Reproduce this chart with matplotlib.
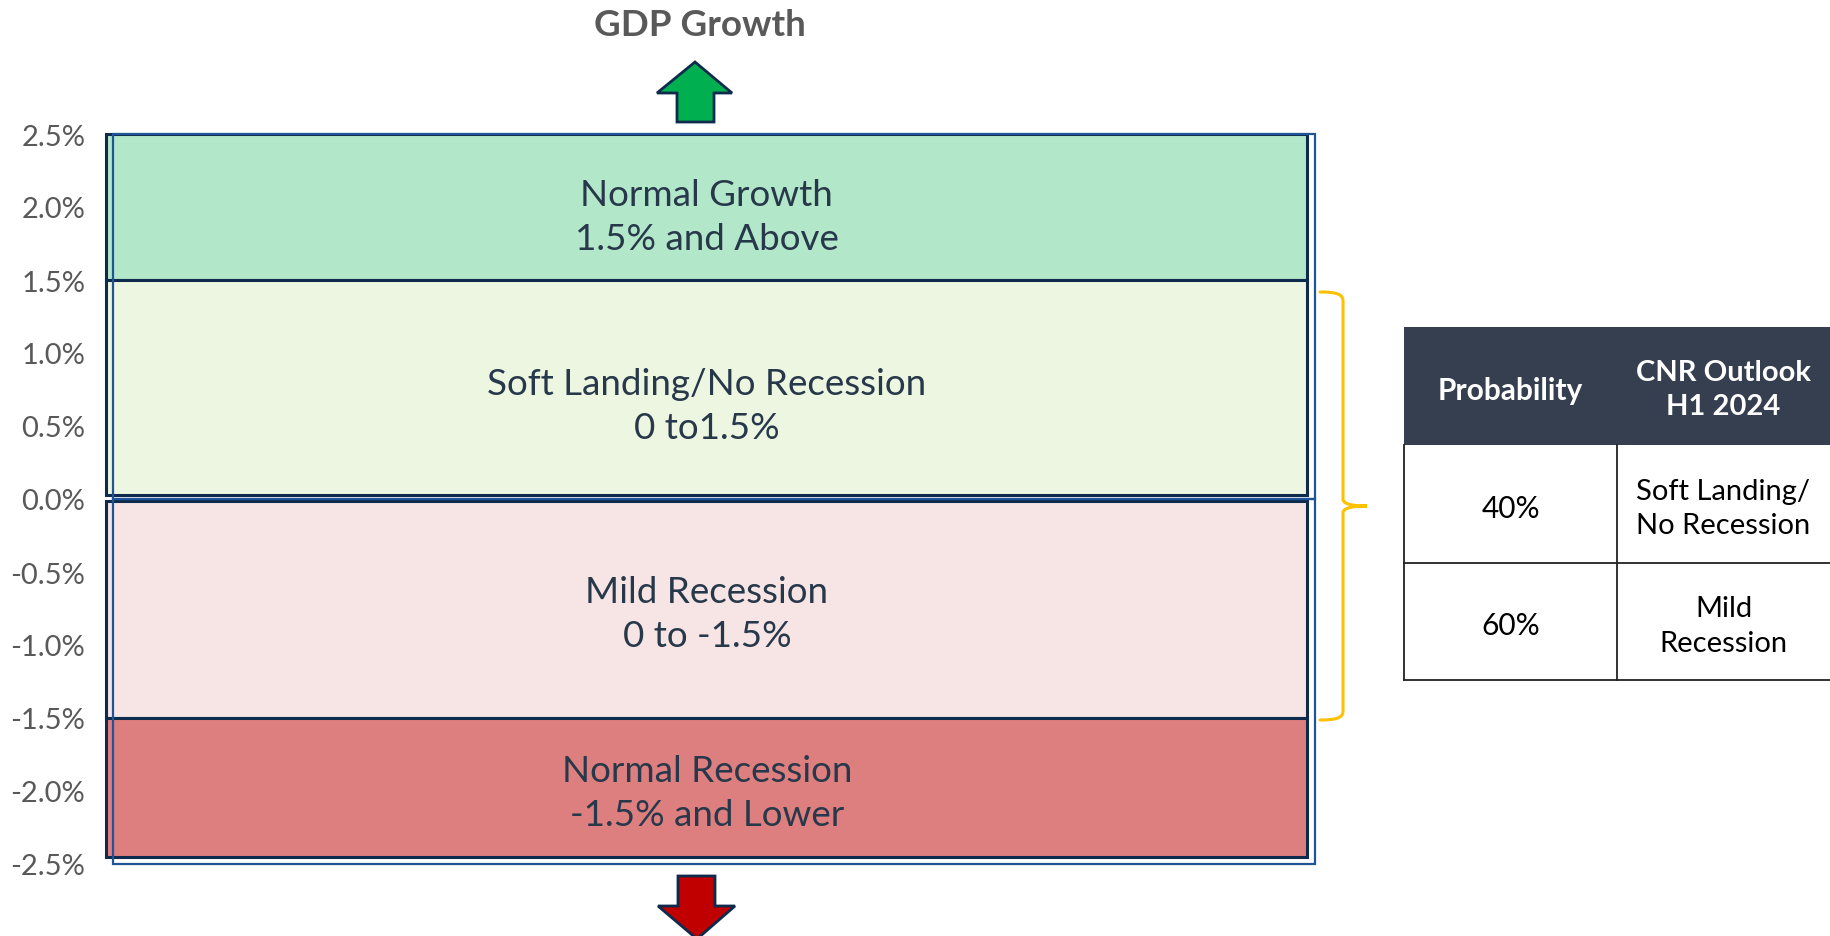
import matplotlib.pyplot as plt
from matplotlib.patches import Rectangle, Polygon, PathPatch
from matplotlib.path import Path

plt.rcParams['font.family'] = ['Lato', 'DejaVu Sans']

# zones of GDP growth (in %)
zone_names = ['Normal Growth\n1.5% and Above', 'Soft Landing/No Recession\n0 to1.5%',
              'Mild Recession\n0 to -1.5%', 'Normal Recession\n-1.5% and Lower']
zone_top = [2.5, 1.5, 0.0, -1.5]
zone_bottom = [1.5, 0.0, -1.5, -2.45]
zone_colors = ['#b3e7c9', '#edf6e0', '#f7e5e5', '#de7f7f']
label_nudge = [-0.065, -0.11, -0.035, -0.035]   # small shifts of the zone texts

y_ticks = [2.5, 2.0, 1.5, 1.0, 0.5, 0.0, -0.5, -1.0, -1.5, -2.0, -2.5]
y_labels = ['2.5%', '2.0%', '1.5%', '1.0%', '0.5%', '0.0%',
            '-0.5%', '-1.0%', '-1.5%', '-2.0%', '-2.5%']

table_header = ['Probability', 'CNR Outlook\nH1 2024']
probabilities = ['40%', '60%']
outlooks = ['Soft Landing/\nNo Recession', 'Mild\nRecession']

W, H = 1830, 937
fig = plt.figure(figsize=(W / 100, H / 100), dpi=100)

ax = fig.add_axes([106 / W, 72 / H, 1209 / W, 730 / H])
ax.set_xlim(0, 1)
ax.set_ylim(-2.5, 2.5)
for s in ax.spines.values():
    s.set_visible(False)
ax.set_xticks([])
ax.set_yticks(y_ticks)
ax.set_yticklabels(y_labels, fontsize=21, color='#595959')
ax.tick_params(axis='y', length=0, pad=15)

navy = '#0e2b4d'
blue = '#1f5597'

# outer blue frames (above / below zero)
for lo, hi in [(0.0, 2.5), (-2.5, 0.0)]:
    ax.add_patch(Rectangle((0.006, lo), 0.994, hi - lo, facecolor='none',
                           edgecolor=blue, lw=1.6, zorder=3, clip_on=False))

# zone boxes
for name, top, bot, col, nd in zip(zone_names, zone_top, zone_bottom,
                                   zone_colors, label_nudge):
    t = top - 0.015 if top == 0 else top
    b = bot + 0.025 if bot == 0 else bot
    ax.add_patch(Rectangle((0, b), 0.9934, t - b, facecolor=col,
                           edgecolor=navy, lw=2.2, zorder=2, clip_on=False))
    ax.text(0.497, (top + bot) / 2 + nd, name, ha='center', va='center',
            fontsize=26.5, color='#27384a', linespacing=1.42, zorder=4)

# overlay in pixel coordinates for decorations
ov = fig.add_axes([0, 0, 1, 1], zorder=5)
ov.set_xlim(0, W)
ov.set_ylim(H, 0)
ov.axis('off')
ov.patch.set_alpha(0)

ov.text(700, 26, 'GDP Growth', ha='center', va='center', fontsize=26.5,
        fontweight='bold', color='#595959')

# up arrow
ov.add_patch(Polygon([(677, 123), (677, 94), (657, 94), (695, 63), (732, 94),
                      (714, 94), (714, 123)], closed=True,
                     facecolor='#00b050', edgecolor=navy, lw=2))
# down arrow
ov.add_patch(Polygon([(678, 877), (678, 907), (658, 907), (697, 940), (735, 907),
                      (715, 907), (715, 877)], closed=True,
                     facecolor='#c00000', edgecolor=navy, lw=2, clip_on=False))

# brace
verts = [(1320, 293), (1336, 293), (1343, 295), (1343, 302),
         (1343, 500),
         (1343, 505), (1352, 507), (1367, 507),
         (1352, 507), (1343, 509), (1343, 514),
         (1343, 712),
         (1343, 719), (1336, 721), (1320, 721)]
codes = [Path.MOVETO, Path.CURVE4, Path.CURVE4, Path.CURVE4,
         Path.LINETO,
         Path.CURVE4, Path.CURVE4, Path.CURVE4,
         Path.CURVE4, Path.CURVE4, Path.CURVE4,
         Path.LINETO,
         Path.CURVE4, Path.CURVE4, Path.CURVE4]
ov.add_patch(PathPatch(Path(verts, codes), facecolor='none', edgecolor='#ffc000',
                       lw=2.2, capstyle='round'))

# table
tx0, tsplit, tx1 = 1404, 1617, 1832
ty = [328, 446, 564, 681]
ov.add_patch(Rectangle((tx0, ty[0]), tx1 - tx0, ty[1] - ty[0],
                       facecolor='#353f4f', edgecolor='none'))
ov.text((tx0 + tsplit) / 2, (ty[0] + ty[1]) / 2 + 4, table_header[0], ha='center',
        va='center', fontsize=21.5, fontweight='bold', color='white')
ov.text((tsplit + tx1) / 2 - 1, (ty[0] + ty[1]) / 2 + 3, table_header[1], ha='center',
        va='center', fontsize=21, fontweight='bold', color='white', linespacing=1.4)
for i, (p, o) in enumerate(zip(probabilities, outlooks)):
    y0, y1 = ty[i + 1], ty[i + 2]
    ov.plot([tx0, tx1], [y1, y1], color='#222222', lw=1.3)
    ov.text((tx0 + tsplit) / 2, (y0 + y1) / 2 + 4, p, ha='center', va='center',
            fontsize=21.5, color='black')
    ov.text((tsplit + tx1) / 2 - 1, (y0 + y1) / 2 + 4, o, ha='center', va='center',
            fontsize=21, color='black', linespacing=1.4)
ov.plot([tx0, tx0], [ty[1], ty[3]], color='#222222', lw=1.3)
ov.plot([tsplit, tsplit], [ty[1], ty[3]], color='#222222', lw=1.3)

fig.savefig('out.png', dpi=100)
